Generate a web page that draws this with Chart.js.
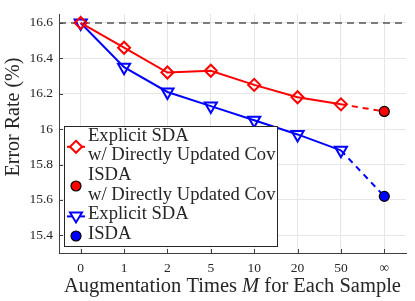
<!DOCTYPE html>
<html>
<head>
<meta charset="utf-8">
<script src="https://cdn.jsdelivr.net/npm/chart.js@4"></script>
<style>
  html, body { margin: 0; padding: 0; background: #fff; }
  #wrap { width: 415px; height: 301px; }
</style>
</head>
<body>
<div id="wrap"><canvas id="error-rate-chart"></canvas></div>
<script>
// augmentation times M and error rates (%)
const augmentTimes = ['0', '1', '2', '5', '10', '20', '50', '\u221e'];
const explicitCov = [16.60, 16.46, 16.32, 16.33, 16.25, 16.18, 16.14, null];
const isdaCov = [null, null, null, null, null, null, 16.14, 16.10];
const explicitSda = [16.60, 16.35, 16.21, 16.13, 16.05, 15.97, 15.88, null];
const isda = [null, null, null, null, null, null, 15.88, 15.62];
const yTicks = [15.4, 15.6, 15.8, 16, 16.2, 16.4, 16.6];
const baseline = 16.6;

const serif = '"Liberation Serif", "DejaVu Serif", serif';
const endOnly = augmentTimes.map((_, i) => i === augmentTimes.length - 1 ? 5 : 0);

// legend is drawn by hand so the two-line labels look like the original
const legendItems = [
    { lines: ['Explicit SDA', 'w/ Directly Updated Cov'], color: 'rgb(255,0,0)', marker: 'diamond' },
    { lines: ['ISDA', 'w/ Directly Updated Cov'], color: 'rgb(255,0,0)', marker: 'dot' },
    { lines: ['Explicit SDA'], color: 'rgb(0,0,255)', marker: 'triangle' },
    { lines: ['ISDA'], color: 'rgb(0,0,255)', marker: 'dot' }
];

function drawMarker(ctx, kind, x, y, color) {
    ctx.save();
    ctx.lineWidth = 2;
    if (kind === 'dot') {
        ctx.beginPath();
        ctx.arc(x, y, 5, 0, Math.PI * 2);
        ctx.fillStyle = color;
        ctx.fill();
        ctx.strokeStyle = '#000';
        ctx.lineWidth = 1.2;
        ctx.stroke();
    } else {
        ctx.strokeStyle = color;
        ctx.beginPath();
        ctx.moveTo(x - 9, y);
        ctx.lineTo(x + 9, y);
        ctx.stroke();
        ctx.beginPath();
        if (kind === 'diamond') {
            ctx.moveTo(x, y - 6); ctx.lineTo(x + 6, y); ctx.lineTo(x, y + 6); ctx.lineTo(x - 6, y);
        } else {
            ctx.moveTo(x - 6, y - 4); ctx.lineTo(x + 6, y - 4); ctx.lineTo(x, y + 6);
        }
        ctx.closePath();
        ctx.fillStyle = '#fff';
        ctx.fill();
        ctx.stroke();
    }
    ctx.restore();
}

const extras = {
    id: 'extras',
    beforeDatasetsDraw(chart) {
        const { ctx, chartArea, scales } = chart;
        const y = scales.y.getPixelForValue(baseline);
        ctx.save();
        ctx.strokeStyle = '#555';
        ctx.lineWidth = 1.5;
        ctx.setLineDash([7, 5]);
        ctx.beginPath();
        ctx.moveTo(chartArea.left, y);
        ctx.lineTo(chartArea.right, y);
        ctx.stroke();
        ctx.restore();
    },
    afterDraw(chart) {
        const { ctx, chartArea, scales } = chart;
        ctx.save();
        // inward tick marks
        ctx.strokeStyle = '#404040';
        ctx.lineWidth = 1;
        augmentTimes.forEach((_, i) => {
            const x = Math.round(scales.x.getPixelForValue(i)) + 0.5;
            ctx.beginPath();
            ctx.moveTo(x, chartArea.bottom);
            ctx.lineTo(x, chartArea.bottom - 4);
            ctx.stroke();
        });
        yTicks.forEach(v => {
            const y = Math.round(scales.y.getPixelForValue(v)) + 0.5;
            ctx.beginPath();
            ctx.moveTo(chartArea.left, y);
            ctx.lineTo(chartArea.left + 4, y);
            ctx.stroke();
        });

        // legend box
        const box = { left: 64.5, top: 126.5, width: 213, height: 120 };
        ctx.fillStyle = '#fff';
        ctx.fillRect(box.left, box.top, box.width, box.height);
        ctx.strokeStyle = '#262626';
        ctx.strokeRect(box.left, box.top, box.width, box.height);
        ctx.font = '18.6px ' + serif;
        ctx.fillStyle = '#262626';
        ctx.textBaseline = 'middle';
        ctx.textAlign = 'left';
        let lineY = 136;
        const lineGap = 19.6;
        legendItems.forEach(item => {
            const markY = item.lines.length > 1 ? lineY + lineGap / 2 + 1 : lineY + 2;
            drawMarker(ctx, item.marker, 76, markY, item.color);
            item.lines.forEach(t => {
                ctx.fillText(t, 88, lineY);
                lineY += lineGap;
            });
        });

        // x title with italic M
        const parts = [
            ['Augmentation Times ', '20.5px ' + serif],
            ['M', 'italic 20.5px ' + serif],
            [' for Each Sample', '20.5px ' + serif]
        ];
        let total = 0;
        parts.forEach(p => { ctx.font = p[1]; total += ctx.measureText(p[0]).width; });
        let x = (chartArea.left + chartArea.right) / 2 - total / 2;
        parts.forEach(p => {
            ctx.font = p[1];
            ctx.fillText(p[0], x, 287);
            x += ctx.measureText(p[0]).width;
        });

        // y title
        ctx.translate(14, 117);
        ctx.rotate(-Math.PI / 2);
        ctx.textAlign = 'center';
        ctx.font = '20px ' + serif;
        ctx.fillText('Error Rate (%)', 0, 0);
        ctx.restore();
    }
};

const data = {
    labels: augmentTimes,
    datasets: [{
        label: 'Explicit SDA w/ Directly Updated Cov',
        data: explicitCov,
        borderColor: 'rgb(255,0,0)',
        backgroundColor: 'rgba(255,255,255,0)',
        borderWidth: 2,
        pointStyle: 'rectRot',
        pointRadius: 6,
        pointBorderWidth: 2,
        spanGaps: false
    }, {
        label: 'ISDA w/ Directly Updated Cov',
        data: isdaCov,
        borderColor: 'rgb(255,0,0)',
        borderDash: [6, 5],
        borderWidth: 2,
        pointRadius: endOnly,
        pointBackgroundColor: 'rgb(255,0,0)',
        pointBorderColor: '#000',
        pointBorderWidth: 1.2
    }, {
        label: 'Explicit SDA',
        data: explicitSda,
        borderColor: 'rgb(0,0,255)',
        backgroundColor: 'rgba(255,255,255,0)',
        borderWidth: 2,
        pointStyle: 'triangle',
        rotation: 180,
        pointRadius: 7,
        pointBorderWidth: 2
    }, {
        label: 'ISDA',
        data: isda,
        borderColor: 'rgb(0,0,255)',
        borderDash: [6, 5],
        borderWidth: 2,
        pointRadius: endOnly,
        pointBackgroundColor: 'rgb(0,0,255)',
        pointBorderColor: '#000',
        pointBorderWidth: 1.2
    }]
};

const config = {
    type: 'line',
    data,
    plugins: [extras],
    options: {
        responsive: true,
        maintainAspectRatio: false,
        animation: false,
        layout: { padding: { top: 2, right: 1, left: 0, bottom: 0 } },
        plugins: { legend: { display: false }, tooltip: { enabled: false } },
        scales: {
            x: {
                type: 'category',
                offset: true,
                afterFit: s => { s.height = 48; },
                grid: { color: '#e6e6e6', drawTicks: false, offset: false },
                border: { color: '#404040' },
                ticks: { color: '#262626', padding: 7, font: { family: serif, size: 13.5 } }
            },
            y: {
                min: 15.3,
                max: 16.65,
                afterFit: s => { s.width = 59; },
                afterBuildTicks: s => { s.ticks = yTicks.map(v => ({ value: v })); },
                grid: { color: '#e6e6e6', drawTicks: false },
                border: { color: '#404040' },
                ticks: {
                    color: '#262626',
                    padding: 6,
                    font: { family: serif, size: 13.5 },
                    callback: v => v === 16 ? '16' : v.toFixed(1)
                }
            }
        }
    }
};

new Chart(document.querySelector('#error-rate-chart'), config);
</script>
</body>
</html>
